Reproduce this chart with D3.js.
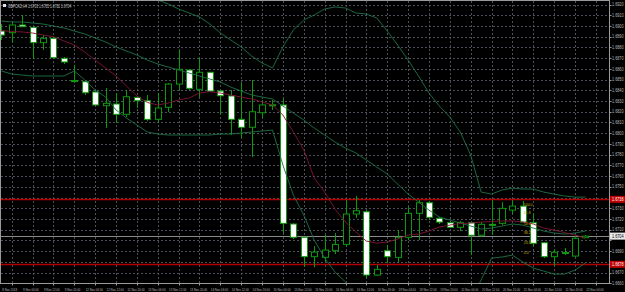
<!DOCTYPE html>
<html>
<head>
<meta charset="utf-8">
<script src="https://cdn.jsdelivr.net/npm/d3@7/dist/d3.min.js"></script>
<style>
  html, body { margin: 0; padding: 0; background: #000; }
  svg { display: block; }
  text { font-family: "Liberation Sans", Arial, sans-serif; }
</style>
</head>
<body>
<div id="chart"></div>
<script>
// chart values
var symbolTitle = "GBPCAD,H4  1.6703 1.6705 1.6702 1.6704";

var opens  = [1.68953,1.68937,1.69009,1.68987,1.68844,1.68885,1.68698,1.68491,1.68480,1.68384,
              1.68256,1.68272,1.68176,1.68334,1.68303,1.68129,1.68241,1.68458,1.68589,1.68409,
              1.68568,1.68393,1.68347,1.68129,1.68055,1.68191,1.68260,1.68263,1.67153,1.67029,
              1.66848,1.66842,1.66904,1.66963,1.67246,1.67267,1.66677,1.66904,1.66842,1.67029,
              1.67252,1.67351,1.67206,1.67165,1.67122,1.67165,1.67048,1.67150,1.67159,1.67283,
              1.67320,1.67165,1.66978,1.66848,1.66884,1.66854,1.67025];
var highs  = [1.69018,1.69030,1.69102,1.68990,1.68915,1.68897,1.68710,1.68636,1.68496,1.68393,
              1.68421,1.68375,1.68403,1.68347,1.68356,1.68375,1.68468,1.68776,1.68598,1.68701,
              1.68570,1.68403,1.68403,1.68468,1.68496,1.68309,1.68309,1.68328,1.67162,1.67031,
              1.66947,1.67050,1.67069,1.67376,1.67414,1.67283,1.66770,1.66957,1.67097,1.67314,
              1.67376,1.67367,1.67218,1.67181,1.67181,1.67171,1.67171,1.67376,1.67358,1.67376,
              1.67367,1.67255,1.66985,1.66919,1.66929,1.67040,1.67050];
var lows   = [1.68869,1.68841,1.68990,1.68692,1.68776,1.68692,1.68645,1.68468,1.68356,1.68253,
              1.68048,1.68095,1.68151,1.68235,1.68113,1.68104,1.68197,1.68403,1.68403,1.68337,
              1.68384,1.68169,1.67983,1.67964,1.67778,1.68141,1.68216,1.67069,1.67013,1.66754,
              1.66751,1.66798,1.66873,1.66938,1.67209,1.66649,1.66668,1.66789,1.66798,1.67003,
              1.67003,1.67190,1.67153,1.67115,1.67087,1.66863,1.67031,1.67050,1.67143,1.67246,
              1.67162,1.66947,1.66835,1.66761,1.66863,1.66845,1.67022];
var closes = [1.68915,1.69009,1.68993,1.68844,1.68885,1.68704,1.68664,1.68482,1.68377,1.68263,
              1.68278,1.68176,1.68340,1.68303,1.68129,1.68235,1.68458,1.68596,1.68418,1.68568,
              1.68393,1.68349,1.68129,1.68055,1.68200,1.68263,1.68265,1.67159,1.67029,1.66848,
              1.66891,1.66910,1.66963,1.67246,1.67277,1.66677,1.66730,1.66848,1.67029,1.67252,
              1.67351,1.67215,1.67171,1.67122,1.67165,1.67048,1.67150,1.67140,1.67299,1.67320,
              1.67171,1.66973,1.66848,1.66889,1.66887,1.67020,1.67040];

// Bollinger bands (green) and the moving average (maroon)
var upperBand  = [1.69513,1.69522,1.69531,1.69522,1.69503,1.69466,1.69429,1.69326,1.69354,1.69373,
                  1.69363,1.69391,1.69391,1.69382,1.69354,1.69242,1.69205,1.69158,1.69121,1.69083,
                  1.69018,1.68934,1.68869,1.68804,1.68720,1.68654,1.68608,1.68804,1.68962,1.69055,
                  1.69102,1.69158,1.69177,1.69167,1.69121,1.69111,1.69074,1.68953,1.68822,1.68682,
                  1.68533,1.68374,1.68253,1.68151,1.68011,1.67796,1.67451,1.67432,1.67470,1.67488,
                  1.67479,1.67479,1.67451,1.67432,1.67414,1.67404,1.67404];
var middleBand = [1.69046,1.69037,1.69037,1.69027,1.69018,1.68999,1.68981,1.68953,1.68925,1.68888,
                  1.68850,1.68804,1.68766,1.68729,1.68682,1.68645,1.68617,1.68589,1.68561,1.68533,
                  1.68505,1.68477,1.68430,1.68393,1.68356,1.68337,1.68319,1.68253,1.68188,1.68123,
                  1.68048,1.67983,1.67917,1.67861,1.67815,1.67750,1.67684,1.67619,1.67526,1.67432,
                  1.67358,1.67283,1.67218,1.67190,1.67162,1.67134,1.67106,1.67115,1.67134,1.67153,
                  1.67143,1.67115,1.67087,1.67069,1.67059,1.67069,1.67087];
var lowerBand  = [1.68580,1.68552,1.68542,1.68533,1.68533,1.68533,1.68533,1.68580,1.68496,1.68402,
                  1.68337,1.68216,1.68141,1.68076,1.68011,1.67992,1.67983,1.67983,1.67983,1.67983,
                  1.67983,1.67992,1.67992,1.68001,1.68011,1.68020,1.68029,1.67703,1.67423,1.67236,
                  1.67003,1.66835,1.66705,1.66612,1.66490,1.66350,1.66210,1.66117,1.66164,1.66164,
                  1.66145,1.66136,1.66164,1.66257,1.66332,1.66444,1.66630,1.66835,1.66845,1.66863,
                  1.66798,1.66742,1.66714,1.66686,1.66686,1.66723,1.66789];
var maLine     = [1.68956,1.68948,1.68944,1.68934,1.68916,1.68900,1.68860,1.68822,1.68757,1.68682,
                  1.68608,1.68533,1.68440,1.68347,1.68286,1.68263,1.68281,1.68309,1.68328,1.68374,
                  1.68387,1.68374,1.68356,1.68337,1.68319,1.68291,1.68263,1.68169,1.68011,1.67843,
                  1.67582,1.67451,1.67292,1.67171,1.67078,1.66994,1.66975,1.66985,1.67013,1.67050,
                  1.67059,1.67087,1.67125,1.67143,1.67157,1.67162,1.67171,1.67176,1.67181,1.67181,
                  1.67171,1.67153,1.67115,1.67097,1.67073,1.67050,1.67022];

var timeLabels = ["8 Nov 2018","9 Nov 04:00","9 Nov 12:00","9 Nov 20:00","12 Nov 04:00","12 Nov 12:00",
                  "12 Nov 20:00","13 Nov 04:00","13 Nov 12:00","13 Nov 20:00","14 Nov 04:00","14 Nov 12:00",
                  "14 Nov 20:00","15 Nov 04:00","15 Nov 12:00","15 Nov 20:00","16 Nov 04:00","16 Nov 12:00",
                  "16 Nov 20:00","19 Nov 04:00","19 Nov 12:00","19 Nov 20:00","20 Nov 04:00","20 Nov 12:00",
                  "20 Nov 20:00","21 Nov 04:00","21 Nov 12:00","21 Nov 20:00","22 Nov 04:00"];
var timeLabelBars = [1,3,5,7,9,11,13,15,17,19,21,23,25,27,29,31,33,35,37,39,41,43,45,47,49,51,53,55,57];

var priceTicks = [1.6920,1.6910,1.6900,1.6890,1.6880,1.6870,1.6860,1.6850,1.6840,1.6830,1.6820,1.6810,
                  1.6800,1.6790,1.6780,1.6770,1.6760,1.6750,1.6740,1.6730,1.6720,1.6710,1.6700,1.6690,
                  1.6680,1.6670,1.6660];

var levelLines = [1.67383, 1.66777];
var lastPrice = 1.67040;
var fibLabels = ["100.0","61.8","50.0","38.2","23.6","0.0"];
var fibPrices = [1.67339,1.67264,1.67162,1.67078,1.66985,1.66891];

// layout
var svgWidth = 625, svgHeight = 292;
var plot = { left: 1, top: 1, right: 609, bottom: 283 };

var svg = d3.select("#chart").append("svg")
  .attr("width", svgWidth)
  .attr("height", svgHeight);

svg.append("rect").attr("width", svgWidth).attr("height", svgHeight).attr("fill", "#000");

// scales
var xScale = d3.scaleLinear().domain([0, 56]).range([1.3, 585.4]);
var yScale = d3.scaleLinear().domain([1.6660, 1.6920]).range([283.3, 4.5]);

svg.append("clipPath").attr("id", "plotClip")
  .append("rect")
  .attr("x", plot.left).attr("y", plot.top)
  .attr("width", plot.right - plot.left).attr("height", plot.bottom - plot.top);

var plotGroup = svg.append("g").attr("clip-path", "url(#plotClip)");

// grid
plotGroup.selectAll(".hgrid")
  .data(priceTicks)
  .enter().append("line")
  .attr("x1", plot.left).attr("x2", plot.right)
  .attr("y1", d => Math.round(yScale(d)) + 0.5)
  .attr("y2", d => Math.round(yScale(d)) + 0.5)
  .attr("stroke", "#4b515c")
  .attr("stroke-dasharray", "2,2");

plotGroup.selectAll(".vgrid")
  .data(timeLabelBars)
  .enter().append("line")
  .attr("x1", d => Math.round(xScale(d)) + 0.5)
  .attr("x2", d => Math.round(xScale(d)) + 0.5)
  .attr("y1", plot.top).attr("y2", plot.bottom)
  .attr("stroke", "#4b515c")
  .attr("stroke-dasharray", "2,2");

// horizontal level lines and last price line
plotGroup.selectAll(".level")
  .data(levelLines)
  .enter().append("line")
  .attr("x1", plot.left).attr("x2", plot.right)
  .attr("y1", d => Math.round(yScale(d)) + 0.5)
  .attr("y2", d => Math.round(yScale(d)) + 0.5)
  .attr("stroke", "#b00000")
  .attr("stroke-width", 1.3);

plotGroup.append("line")
  .attr("x1", plot.left).attr("x2", plot.right)
  .attr("y1", Math.round(yScale(lastPrice)) + 0.5)
  .attr("y2", Math.round(yScale(lastPrice)) + 0.5)
  .attr("stroke", "#8a8a8a");

// candles
var bodyWidth = 7;
var candleGreen = "#0b9a0b";
var candles = plotGroup.selectAll(".candle")
  .data(opens)
  .enter().append("g");

candles.append("line")
  .attr("x1", (d, i) => Math.round(xScale(i)) + 0.5)
  .attr("x2", (d, i) => Math.round(xScale(i)) + 0.5)
  .attr("y1", (d, i) => yScale(highs[i]))
  .attr("y2", (d, i) => yScale(lows[i]))
  .attr("stroke", candleGreen);

candles.append("rect")
  .attr("x", (d, i) => Math.round(xScale(i)) - 3 + 0.5)
  .attr("y", (d, i) => yScale(Math.max(opens[i], closes[i])))
  .attr("width", bodyWidth - 1)
  .attr("height", (d, i) => Math.max(1, Math.abs(yScale(opens[i]) - yScale(closes[i]))))
  .attr("fill", (d, i) => closes[i] < opens[i] ? "#ffffff" : "#000000")
  .attr("stroke", candleGreen);

// indicator lines
function drawLine(values, color) {
  plotGroup.append("path")
    .datum(values)
    .attr("fill", "none")
    .attr("stroke", color)
    .attr("stroke-width", 1)
    .attr("opacity", 0.9)
    .attr("d", d3.line().x((d, i) => xScale(i)).y(d => yScale(d)));
}
drawLine(upperBand, "#1f7247");
drawLine(middleBand, "#1f7247");
drawLine(lowerBand, "#1f7247");
drawLine(maLine, "#821535");

// fibo labels
plotGroup.selectAll(".fib")
  .data(fibPrices)
  .enter().append("text")
  .attr("x", xScale(50) + 1)
  .attr("y", d => yScale(d) + 1.5)
  .attr("fill", "#c8b400")
  .attr("font-size", "3.5px")
  .text((d, i) => fibLabels[i]);

// frame
svg.append("rect")
  .attr("x", plot.left - 0.5).attr("y", plot.top - 0.5)
  .attr("width", plot.right - plot.left + 1).attr("height", plot.bottom - plot.top + 1)
  .attr("fill", "none")
  .attr("stroke", "#9a9a9a");

// small narrow text: drawn at a font size, squeezed horizontally
function narrowText(parent, x, y, str, size, squeeze, color) {
  parent.append("text")
    .attr("transform", `translate(${x},${y}) scale(${squeeze},1)`)
    .attr("fill", color)
    .attr("font-size", size + "px")
    .text(str);
}

// right price axis; ticks hidden under a price tag are skipped
var tagPrices = levelLines.concat([lastPrice]);
var shownTicks = priceTicks.filter(p => tagPrices.every(t => Math.abs(yScale(p) - yScale(t)) > 6));

var yAxis = svg.append("g");
yAxis.selectAll("line")
  .data(priceTicks)
  .enter().append("line")
  .attr("x1", plot.right + 0.5).attr("x2", plot.right + 2.5)
  .attr("y1", d => Math.round(yScale(d)) + 0.5)
  .attr("y2", d => Math.round(yScale(d)) + 0.5)
  .attr("stroke", "#9a9a9a");
shownTicks.forEach(function(p) {
  narrowText(yAxis, plot.right + 3, yScale(p) + 1.7, p.toFixed(4), 4.6, 0.82, "#b8b8b8");
});

// price tags for levels and last price
function priceTag(p, bg, fg) {
  svg.append("rect")
    .attr("x", plot.right + 1).attr("y", yScale(p) - 3.5)
    .attr("width", 15).attr("height", 7)
    .attr("fill", bg);
  narrowText(svg, plot.right + 3, yScale(p) + 1.7, p.toFixed(4), 4.6, 0.82, fg);
}
levelLines.forEach(p => priceTag(p, "#c00000", "#ffffff"));
priceTag(lastPrice, "#e8e8e8", "#000000");

// bottom time axis
var xAxis = svg.append("g");
xAxis.selectAll("line")
  .data(timeLabelBars)
  .enter().append("line")
  .attr("x1", d => Math.round(xScale(d)) + 0.5)
  .attr("x2", d => Math.round(xScale(d)) + 0.5)
  .attr("y1", plot.bottom).attr("y2", plot.bottom + 2.5)
  .attr("stroke", "#9a9a9a");
timeLabelBars.forEach(function(b, i) {
  narrowText(xAxis, xScale(b) - 9.5, plot.bottom + 7.5, timeLabels[i], 4.4, 0.66, "#b8b8b8");
});

// title
svg.append("rect").attr("x", 3).attr("y", 4).attr("width", 3).attr("height", 3).attr("fill", "#e0e0e0");
narrowText(svg, 8, 7.5, symbolTitle, 4.6, 0.72, "#c8c8c8");
</script>
</body>
</html>
